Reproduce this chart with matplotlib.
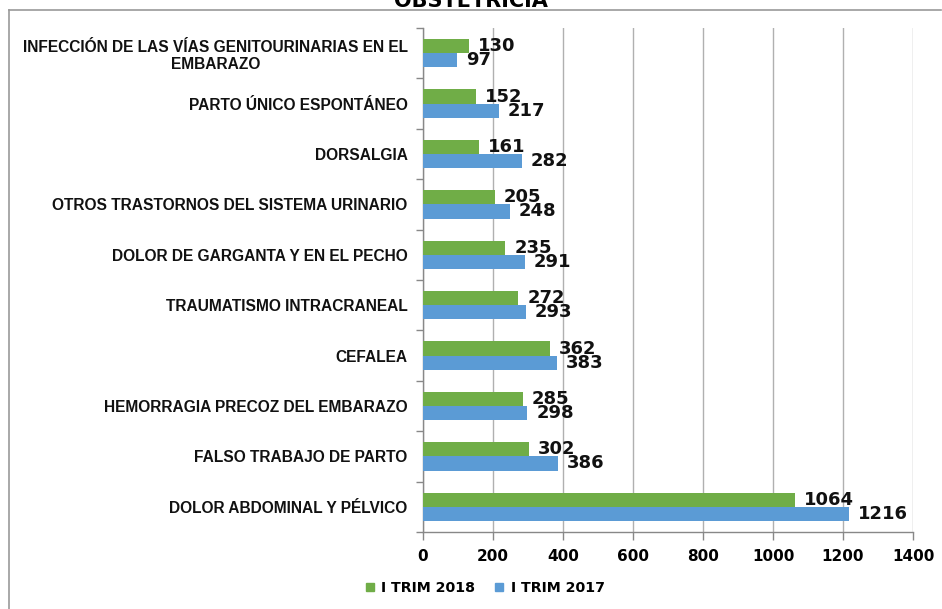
import matplotlib
matplotlib.use("Agg")
import matplotlib.pyplot as plt
from matplotlib.lines import Line2D
import numpy as np

categories = [
    "INFECCIÓN DE LAS VÍAS GENITOURINARIAS EN EL\nEMBARAZO",
    "PARTO ÚNICO ESPONTÁNEO",
    "DORSALGIA",
    "OTROS TRASTORNOS DEL SISTEMA URINARIO",
    "DOLOR DE GARGANTA Y EN EL PECHO",
    "TRAUMATISMO INTRACRANEAL",
    "CEFALEA",
    "HEMORRAGIA PRECOZ DEL EMBARAZO",
    "FALSO TRABAJO DE PARTO",
    "DOLOR ABDOMINAL Y PÉLVICO",
]
trim2018 = [130, 152, 161, 205, 235, 272, 362, 285, 302, 1064]
trim2017 = [97, 217, 282, 248, 291, 293, 383, 298, 386, 1216]
series_names = ["I TRIM 2018", "I TRIM 2017"]
xticks = [0, 200, 400, 600, 800, 1000, 1200, 1400]
title = "OBSTETRICIA"

green = "#70AD47"
blue = "#5B9BD5"

fig = plt.figure(figsize=(9.42, 6.09), dpi=100)
ax = fig.add_axes([423/942, 1-532/609, (913-423)/942, (532-28)/609])

n = len(categories)
pos = np.arange(n)[::-1]  # first category on top
h = 0.28
b1 = ax.barh(pos + h/2, trim2018, height=h, color=green, zorder=3)
b2 = ax.barh(pos - h/2, trim2017, height=h, color=blue, zorder=3)

for bars, vals in ((b1, trim2018), (b2, trim2017)):
    for bar, v in zip(bars, vals):
        ax.annotate(str(v), (v, bar.get_y() + bar.get_height()/2),
                    xytext=(6.5, 0), textcoords="offset points",
                    va="center", ha="left", fontsize=13, fontweight="bold",
                    family="DejaVu Sans", color="#111111", zorder=4)

ax.set_xlim(0, 1400)
ax.set_ylim(-0.5, n - 0.5)
ax.set_xticks(xticks)
ax.set_xticklabels([str(t) for t in xticks], fontsize=11, fontweight="bold", family="DejaVu Sans")
ax.set_yticks(pos)
ax.set_yticklabels(categories, fontsize=11.2, fontweight="bold", family="Liberation Sans",
                   multialignment="center", color="#111111")
ax.set_yticks(np.arange(-0.5, n, 1), minor=True)
ax.tick_params(axis="y", which="major", length=0, pad=11)
ax.tick_params(axis="y", which="minor", length=5, color="#888888", width=1)
ax.tick_params(axis="x", which="major", length=6, color="#888888", width=1, pad=6)
ax.grid(axis="x", color="#b0b0b0", linewidth=1, zorder=0)
for s in ("top", "right"):
    ax.spines[s].set_visible(False)
for s in ("left", "bottom"):
    ax.spines[s].set_color("#888888")
    ax.spines[s].set_linewidth(1)

handles = [Line2D([], [], marker="s", linestyle="none", markersize=5.5, color=green),
           Line2D([], [], marker="s", linestyle="none", markersize=5.5, color=blue)]
fig.legend(handles, series_names, loc="center", bbox_to_anchor=(485/942, 1-588/609),
           ncol=2, frameon=False, prop={"family": "DejaVu Sans", "weight": "bold", "size": 10.2},
           handletextpad=0.5, columnspacing=1.4, handlelength=0.6)

fig.text(471/942, 1-7/609, title, ha="center", va="baseline", fontsize=15, fontweight="bold",
         family="DejaVu Sans")

fig.add_artist(Line2D([9/942, 9/942], [0, 1-10/609], color="#999999", linewidth=1.2, transform=fig.transFigure))
fig.add_artist(Line2D([9/942, 941/942], [1-10/609, 1-10/609], color="#999999", linewidth=1.2, transform=fig.transFigure))

fig.savefig("out.png", dpi=100)
